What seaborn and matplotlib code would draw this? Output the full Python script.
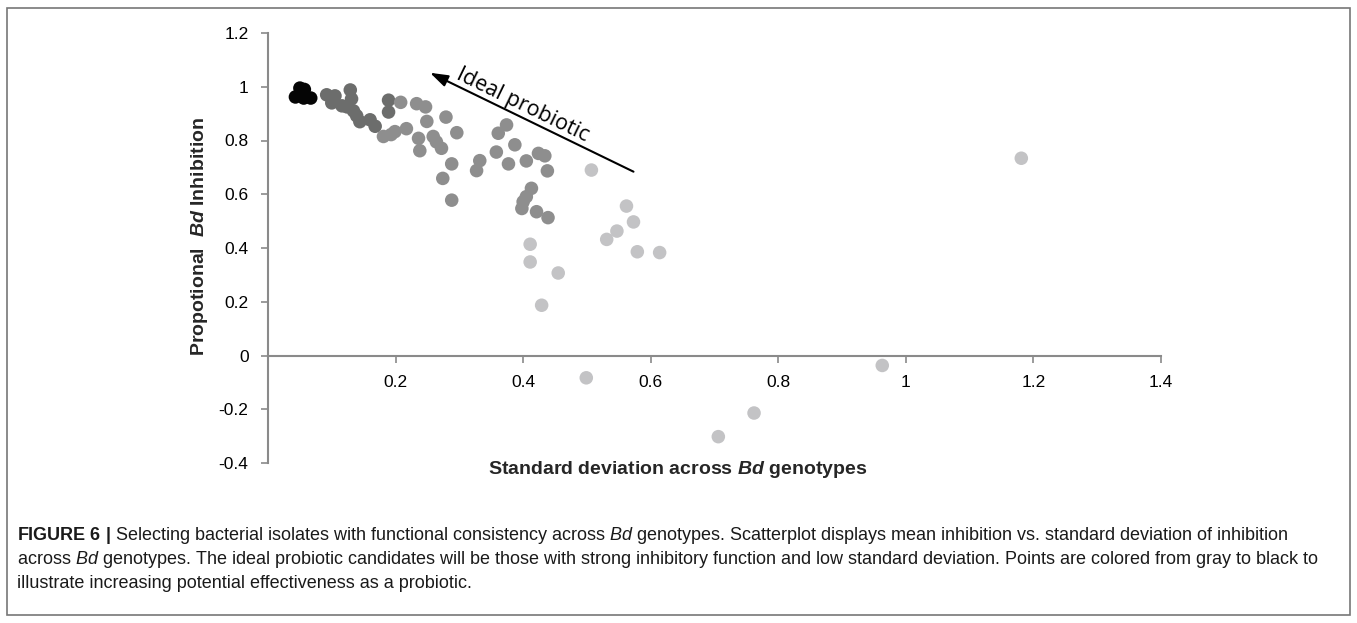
import matplotlib
matplotlib.use("Agg")
import matplotlib.pyplot as plt
import pandas as pd
import seaborn as sns
from matplotlib.patches import Rectangle

# ---------------- data ----------------
black_sd = [0.050, 0.057, 0.043, 0.056, 0.067]
black_inh = [0.995, 0.990, 0.962, 0.958, 0.958]

dark_sd = [0.092, 0.105, 0.129, 0.131, 0.100, 0.116, 0.134, 0.139, 0.144,
           0.160, 0.168, 0.189, 0.189, 0.124]
dark_inh = [0.970, 0.966, 0.988, 0.955, 0.940, 0.929, 0.910, 0.892, 0.870,
            0.877, 0.853, 0.950, 0.906, 0.925]

medium_sd = [0.181, 0.199, 0.208, 0.217, 0.233, 0.247, 0.236, 0.238, 0.249,
             0.259, 0.264, 0.272, 0.279, 0.296, 0.288, 0.274, 0.288, 0.332,
             0.327, 0.361, 0.358, 0.374, 0.387, 0.377, 0.405, 0.424, 0.434,
             0.438, 0.413, 0.405, 0.400, 0.398, 0.421, 0.439, 0.193]
medium_inh = [0.815, 0.833, 0.942, 0.844, 0.937, 0.925, 0.808, 0.762, 0.871,
              0.815, 0.795, 0.771, 0.887, 0.829, 0.713, 0.659, 0.578, 0.725,
              0.688, 0.827, 0.757, 0.858, 0.784, 0.713, 0.724, 0.752, 0.743,
              0.687, 0.622, 0.591, 0.572, 0.547, 0.535, 0.513, 0.822]

light_sd = [0.507, 0.562, 0.573, 0.411, 0.411, 0.455, 0.429, 0.531, 0.547,
            0.579, 0.614, 0.499, 0.706, 0.762, 0.963, 1.181]
light_inh = [0.690, 0.556, 0.497, 0.414, 0.348, 0.307, 0.187, 0.432, 0.463,
             0.386, 0.383, -0.083, -0.302, -0.214, -0.037, 0.734]

tier_names = ["black", "dark", "medium", "light"]
tier_colors = ["#050505", "#6c6d6c", "#8e8e8e", "#c3c3c5"]

x_ticks = [0.2, 0.4, 0.6, 0.8, 1.0, 1.2, 1.4]
x_tick_labels = ["0.2", "0.4", "0.6", "0.8", "1", "1.2", "1.4"]
y_ticks = [-0.4, -0.2, 0.0, 0.2, 0.4, 0.6, 0.8, 1.0, 1.2]
y_tick_labels = ["-0.4", "-0.2", "0", "0.2", "0.4", "0.6", "0.8", "1", "1.2"]

x_label = "Standard deviation across $\\mathbfit{Bd}$ genotypes"
y_label = "Propotional  $\\mathbfit{Bd}$ Inhibition"
arrow_label = "Ideal probiotic"
arrow_start = (0.573, 0.684)
arrow_end = (0.254, 1.052)

caption_lines = [
    "$\\mathbf{FIGURE\\ 6\\ |}$ Selecting bacterial isolates with functional consistency across "
    "$\\mathit{Bd}$ genotypes. Scatterplot displays mean inhibition vs. standard deviation of inhibition",
    "across $\\mathit{Bd}$ genotypes. The ideal probiotic candidates will be those with strong inhibitory "
    "function and low standard deviation. Points are colored from gray to black to",
    "illustrate increasing potential effectiveness as a probiotic.",
]

# ---------------- build frame ----------------
frames = []
for name, xs, ys in [("black", black_sd, black_inh), ("dark", dark_sd, dark_inh),
                     ("medium", medium_sd, medium_inh), ("light", light_sd, light_inh)]:
    frames.append(pd.DataFrame({"sd": xs, "inh": ys, "tier": name}))
df = pd.concat(frames, ignore_index=True)

# ---------------- style ----------------
sns.set_theme(style="white")
plt.rcParams["font.family"] = ["Liberation Sans", "DejaVu Sans"]
plt.rcParams["mathtext.fontset"] = "custom"
plt.rcParams["mathtext.rm"] = "Liberation Sans"
plt.rcParams["mathtext.it"] = "Liberation Sans:italic"
plt.rcParams["mathtext.bf"] = "Liberation Sans:bold"
try:
    plt.rcParams["mathtext.bfit"] = "Liberation Sans:italic:bold"
except KeyError:
    pass

W, H = 1357, 623
fig = plt.figure(figsize=(W / 100, H / 100), dpi=100)
fig.patch.set_facecolor("white")

ax_left, ax_right, ax_top, ax_bottom = 268, 1161, 33, 463
ax = fig.add_axes([ax_left / W, 1 - ax_bottom / H,
                   (ax_right - ax_left) / W, (ax_bottom - ax_top) / H])
ax.set_facecolor("none")

sns.scatterplot(data=df, x="sd", y="inh", hue="tier", hue_order=tier_names,
                palette=dict(zip(tier_names, tier_colors)), s=95, linewidth=0,
                alpha=1.0, legend=False, ax=ax, zorder=3)

ax.set_xlim(0, 1.4)
ax.set_ylim(-0.4, 1.2)
ax.set_xticks(x_ticks)
ax.set_xticklabels(x_tick_labels)
ax.set_yticks(y_ticks)
ax.set_yticklabels(y_tick_labels)
ax.set_xlabel("")
ax.set_ylabel("")

spine_color = "#8a8a8a"
for side in ["top", "right"]:
    ax.spines[side].set_visible(False)
ax.spines["bottom"].set_position(("data", 0))
ax.spines["bottom"].set_color(spine_color)
ax.spines["left"].set_color(spine_color)
ax.spines["bottom"].set_linewidth(1.5)
ax.spines["left"].set_linewidth(1.5)
ax.tick_params(axis="both", which="major", direction="out", length=5, width=1.2,
               color=spine_color, labelsize=12.5, labelcolor="black", pad=9)
ax.tick_params(axis="x", bottom=True)
ax.tick_params(axis="y", left=True)

# arrow and its label
ax.annotate("", xy=arrow_end, xytext=arrow_start,
            arrowprops=dict(arrowstyle="-|>,head_length=0.9,head_width=0.3",
                            color="black", lw=1.5, shrinkA=0, shrinkB=0))
ax.text(0.392, 0.896, arrow_label, rotation=-25.9, rotation_mode="anchor",
        ha="center", va="bottom", fontsize=15.5, family=["Open Sans", "DejaVu Sans"],
        color="black")

# axis labels
fig.text(678 / W, 1 - 470 / H, x_label, ha="center", va="center",
         fontsize=14, fontweight="bold")
fig.text(200 / W, 1 - 236 / H, y_label, ha="center", va="center",
         rotation=90, fontsize=14, fontweight="bold")

# caption
for i, line in enumerate(caption_lines):
    fig.text(17 / W, 1 - (535 + 24.5 * i) / H, line, ha="left", va="center",
             fontsize=13.0, color="#1a1a1a")

# frame
fig.add_artist(Rectangle((7 / W, 1 - 615 / H), (1350 - 7) / W, (615 - 8) / H,
                         transform=fig.transFigure, fill=False,
                         edgecolor="#777777", linewidth=1.2))

fig.savefig("out.png", dpi=100)
